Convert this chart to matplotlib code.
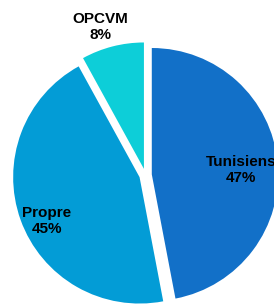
import matplotlib
matplotlib.use("Agg")
import matplotlib.pyplot as plt

categories = ["Tunisiens", "Propre", "OPCVM"]
values = [47, 45, 8]
colors = ["#1270C8", "#039CD6", "#0DCED8"]

W, H = 274, 304
R = 126.4           # pie radius in pixels
cx, cy = 145.5, 175.0  # pie centre in pixels (from top-left)

fig = plt.figure(figsize=(W / 100, H / 100), dpi=100)
ax = fig.add_axes([0, 0, 1, 1])
ax.pie(values, colors=colors, startangle=90, counterclock=False,
       explode=[0.05, 0.05, 0.05], radius=1.0,
       wedgeprops=dict(linewidth=0))
ax.set_aspect("auto")
ax.set_xlim(-cx / R, (W - cx) / R)
ax.set_ylim((cy - H) / R, cy / R)
ax.axis("off")

def px(x, y):
    return (x - cx) / R, (cy - y) / R

label_pos = {"Tunisiens": (241, 170), "Propre": (47, 221), "OPCVM": (100, 27)}
for cat, val in zip(categories, values):
    x, y = px(*label_pos[cat])
    ax.text(x, y, f"{cat}\n{val}%", ha="center", va="center",
            fontsize=11, fontweight="bold", family="Liberation Sans",
            color="black", linespacing=1.1)

fig.savefig("out.png", dpi=100)
